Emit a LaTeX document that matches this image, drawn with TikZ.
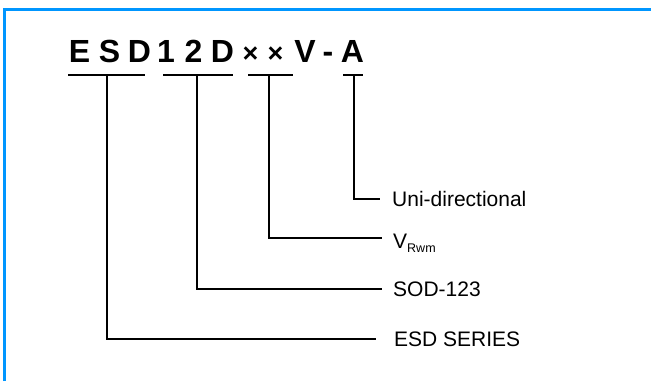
\documentclass[tikz,border=0pt]{standalone}
\usepackage{fontspec}
\setmainfont{Liberation Sans}
\definecolor{frameblue}{RGB}{0,150,255}
\begin{document}
\begin{tikzpicture}[x=1pt,y=-1pt,
  title/.style={anchor=base,inner sep=0pt,font=\fontsize{32}{38}\selectfont\bfseries},
  titlesm/.style={anchor=base,inner sep=0pt,font=\fontsize{27}{32}\selectfont\bfseries},
  lbl/.style={anchor=base west,inner sep=0pt,font=\fontsize{21}{25}\selectfont},
  conn/.style={line width=2pt,black},
  uline/.style={line width=2pt,black},
  frame/.style={line width=3pt,frameblue}]
\useasboundingbox (0,0) rectangle (651,381);
% frame
\draw[frame] (4.5,381) -- (4.5,9.5) -- (651,9.5);
% title characters
\node[title] (t1) at (79.5,62) {E};
\node[title] (t2) at (109.5,62) {S};
\node[title] (t3) at (139.5,62) {D};
\node[title] (t4) at (166,62) {1};
\node[title] (t5) at (193.5,62) {2};
\node[title] (t6) at (222.5,62) {D};
\node[titlesm] (t7) at (250.5,62) {×};
\node[titlesm] (t8) at (275.5,62) {×};
\node[title] (t9) at (305,62) {V};
\node[title] (t10) at (328,62) {-};
\node[title] (t11) at (352.5,62) {A};
% underlines
\draw[uline] (68,75) -- (145,75);
\draw[uline] (163,75) -- (233,75);
\draw[uline] (248,75) -- (293,75);
\draw[uline] (343,75) -- (363,75);
\coordinate (u1) at (107,75);
\coordinate (u2) at (197,75);
\coordinate (u3) at (269,75);
\coordinate (u4) at (354,75);
% labels
\node[lbl] (l4) at (392,206.5) {Uni-directional};
\node[lbl] (l3) at (393,248) {V\raisebox{-4pt}{\fontsize{12.5}{14}\selectfont Rwm}};
\node[lbl] (l2) at (393,296.5) {SOD-123};
\node[lbl] (l1) at (394,346.5) {ESD SERIES};
\coordinate (e4) at (380,199);
\coordinate (e3) at (382,238);
\coordinate (e2) at (382,289);
\coordinate (e1) at (376,339);
% connectors
\draw[conn] (u4) |- (e4);
\draw[conn] (u3) |- (e3);
\draw[conn] (u2) |- (e2);
\draw[conn] (u1) |- (e1);
\end{tikzpicture}
\end{document}
